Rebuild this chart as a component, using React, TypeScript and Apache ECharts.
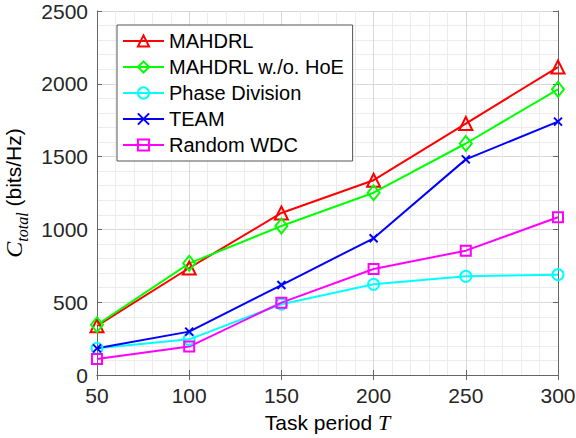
import React, { useEffect, useRef } from "react";
import * as echarts from "echarts";

const taskPeriods = [50, 100, 150, 200, 250, 300];
const mahdrl = [338, 735, 1113, 1338, 1727, 2115];
const mahdrlNoHoE = [345, 767, 1023, 1252, 1590, 1962];
const phaseDivision = [183, 245, 486, 623, 678, 689];
const team = [183, 298, 618, 939, 1481, 1740];
const randomWDC = [110, 195, 497, 728, 854, 1083];

const seriesNames = ["MAHDRL", "MAHDRL w./o. HoE", "Phase Division", "TEAM", "Random WDC"];

const FONT = "Liberation Sans, Arial, sans-serif";
const SERIF = "Liberation Serif, Times New Roman, serif";

export default function App() {
  const ref = useRef<HTMLDivElement>(null);
  useEffect(() => {
    if (!ref.current) return;
    const chart = echarts.init(ref.current, undefined, { renderer: "svg" });
    const mk = (name: string, data: number[], color: string, symbol: string, size: any) => ({
      name,
      type: "line",
      data: taskPeriods.map((x, i) => [x, data[i]]),
      symbol,
      symbolSize: size,
      showAllSymbol: true,
      lineStyle: { color, width: 2 },
      itemStyle: { color: "rgba(255,255,255,0)", borderColor: color, borderWidth: 2 },
      emphasis: { disabled: true },
      xAxisIndex: 0,
      yAxisIndex: 0,
    });
    const axisLine = { show: true, lineStyle: { color: "#666666", width: 1 } };
    const plain = (v: number) => String(v);
    chart.setOption({
      animation: false,
      grid: { left: 97, right: 18, top: 11, bottom: 63, containLabel: false, outerBoundsMode: "none" },
      xAxis: [
        {
          type: "value",
          min: 50,
          max: 300,
          interval: 50,
          position: "bottom",
          axisLine,
          axisTick: { show: true, inside: true, length: 5, lineStyle: { color: "#666666" } },
          axisLabel: { color: "#262626", fontSize: 21, fontFamily: FONT, margin: 10, formatter: plain },
          splitLine: { show: true, lineStyle: { color: "#d8d8d8", width: 1 } },
          minorTick: { show: false, splitNumber: 5 },
          minorSplitLine: { show: true, lineStyle: { color: "#ececec", width: 1 } },
          name: "Task period {t|T}",
          nameLocation: "middle",
          nameGap: 36,
          nameTextStyle: {
            color: "#000000",
            fontSize: 21,
            fontFamily: FONT,
            rich: { t: { fontFamily: SERIF, fontStyle: "italic", fontSize: 22, color: "#000" } },
          },
        },
        {
          type: "value",
          min: 50,
          max: 300,
          interval: 50,
          position: "top",
          axisLine,
          axisTick: { show: true, inside: true, length: 5, lineStyle: { color: "#666666" } },
          axisLabel: { show: false },
          splitLine: { show: false },
        },
      ],
      yAxis: [
        {
          type: "value",
          min: 0,
          max: 2500,
          interval: 500,
          position: "left",
          axisLine,
          axisTick: { show: true, inside: true, length: 5, lineStyle: { color: "#666666" } },
          axisLabel: { color: "#262626", fontSize: 21, fontFamily: FONT, margin: 9, formatter: plain },
          splitLine: { show: true, lineStyle: { color: "#d8d8d8", width: 1 } },
          minorTick: { show: false, splitNumber: 5 },
          minorSplitLine: { show: true, lineStyle: { color: "#ececec", width: 1 } },
          name: "{c|C}{s|total} (bits/Hz)",
          nameLocation: "middle",
          nameRotate: 90,
          nameGap: 66,
          nameTextStyle: {
            color: "#000000",
            fontSize: 21,
            fontFamily: FONT,
            rich: {
              c: { fontFamily: SERIF, fontStyle: "italic", fontSize: 24, color: "#000", lineHeight: 26, verticalAlign: "bottom" },
              s: { fontFamily: SERIF, fontStyle: "italic", fontSize: 16, color: "#000", lineHeight: 20, verticalAlign: "bottom", padding: [0, 0, -4, 0] },
            },
          },
        },
        {
          type: "value",
          min: 0,
          max: 2500,
          interval: 500,
          position: "right",
          axisLine,
          axisTick: { show: true, inside: true, length: 5, lineStyle: { color: "#666666" } },
          axisLabel: { show: false },
          splitLine: { show: false },
        },
      ],
      legend: {
        orient: "vertical",
        left: 117,
        top: 25,
        data: seriesNames,
        itemWidth: 41,
        itemHeight: 14,
        itemGap: 6,
        padding: [6, 8, 6, 5],
        backgroundColor: "#ffffff",
        borderColor: "#555555",
        borderWidth: 1,
        borderRadius: 0,
        textStyle: { color: "#000000", fontSize: 20, fontFamily: FONT, padding: [0, 0, 0, 0] },
        selectedMode: false,
      },
      series: [
        { ...mk(seriesNames[0], mahdrl, "#ff0000", "triangle", 13) },
        { ...mk(seriesNames[1], mahdrlNoHoE, "#00ff00", "diamond", [12, 15]) },
        { ...mk(seriesNames[2], phaseDivision, "#00ffff", "circle", 11) },
        { ...mk(seriesNames[3], team, "#0000ff", "path://M0,0L10,10M10,0L0,10", 8) },
        { ...mk(seriesNames[4], randomWDC, "#ff00ff", "rect", 10) },
      ],
    });
    return () => chart.dispose();
  }, []);
  return <div ref={ref} style={{ width: 576, height: 438, position: "absolute", left: 0, top: 0, background: "#fff" }} />;
}
